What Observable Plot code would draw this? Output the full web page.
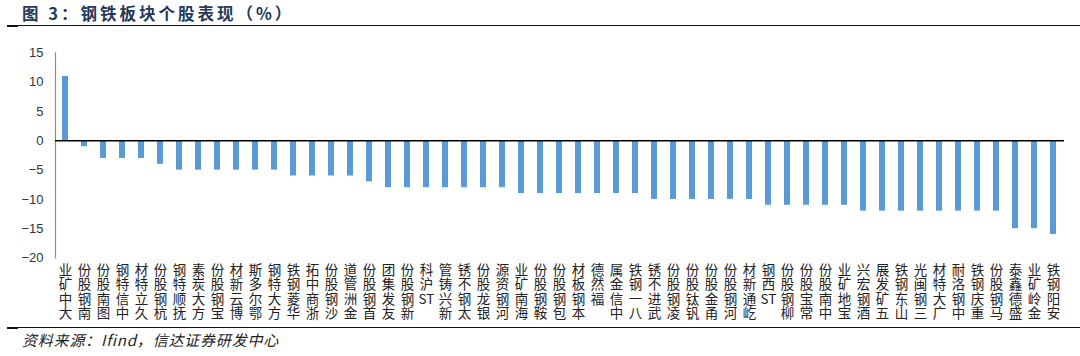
<!DOCTYPE html>
<html>
<head>
<meta charset="utf-8">
<script src="https://cdn.jsdelivr.net/npm/d3@7"></script>
<script src="https://cdn.jsdelivr.net/npm/@observablehq/plot@0.6"></script>
<style>
  html, body { margin: 0; padding: 0; background: #fff; }
  #wrap { position: relative; width: 1080px; height: 356px; overflow: hidden; }
  #title { position: absolute; left: 22px; top: 1px; font: bold 16.5px/24px "Noto Sans CJK SC", sans-serif; letter-spacing: 3px; color: #243858; white-space: nowrap; }
  .hline { position: absolute; left: 7px; right: 0; height: 1px; background: #111; }
  .hthick { position: absolute; left: 7px; width: 11px; height: 2px; background: #111; }
  #chart { position: absolute; left: 0; top: 27px; }
  #source { position: absolute; left: 22px; top: 330px; font: italic 15px/20px "Noto Sans CJK SC", sans-serif; letter-spacing: 0.8px; color: #222; white-space: nowrap; }
</style>
</head>
<body>
<div id="wrap">
  <div id="title">图 3：钢铁板块个股表现（%）</div>
  <div class="hline" style="top:25px"></div>
  <div class="hthick" style="top:25px"></div>
  <div id="chart"></div>
  <div class="hline" style="top:327px"></div>
  <div class="hthick" style="top:327px"></div>
  <div id="source">资料来源：Ifind，信达证券研发中心</div>
</div>
<script>
const names = [
  "大中矿业","南钢股份","图南股份","中信特钢","久立特材","杭钢股份","抚顺特钢","方大炭素","宝钢股份","博云新材",
  "鄂尔多斯","方大特钢","华菱钢铁","浙商中拓","沙钢股份","金洲管道","首钢股份","友发集团","新钢股份","ST沪科",
  "新兴铸管","太钢不锈","银龙股份","河钢资源","海南矿业","鞍钢股份","包钢股份","本钢板材","福然德","中信金属",
  "八一钢铁","武进不锈","凌钢股份","钒钛股份","甬金股份","河钢股份","屹通新材","ST西钢","柳钢股份","常宝股份",
  "中南股份","宝地矿业","酒钢宏兴","五矿发展","山东钢铁","三钢闽光","广大特材","中钢洛耐","重庆钢铁","马钢股份",
  "盛德鑫泰","金岭矿业","安阳钢铁"
];
const values = [
  11, -1, -3, -3, -3, -4, -5, -5, -5, -5,
  -5, -5, -6, -6, -6, -6, -7, -8, -8, -8,
  -8, -8, -8, -8, -9, -9, -9, -9, -9, -9,
  -9, -10, -10, -10, -10, -10, -10, -11, -11, -11,
  -11, -11, -12, -12, -12, -12, -12, -12, -12, -12,
  -15, -15, -16
];
const yTicks = [-20, -15, -10, -5, 0, 5, 10, 15];

const data = names.map((name, i) => ({name, value: values[i]}));

// labels read bottom-to-top with upright glyphs: one glyph per line, reversed (Latin runs kept together)
const stackText = s => (s.match(/[A-Za-z]+|./g) || []).reverse().join("\n");

const chart = Plot.plot({
  width: 1080,
  height: 300,
  marginLeft: 55,
  marginRight: 16,
  marginTop: 25.5,
  marginBottom: 69.5,
  style: {fontFamily: "'Liberation Sans', Arial, sans-serif", fontSize: "13px", color: "#333", background: "#fff"},
  x: {domain: names, axis: null, paddingInner: 0.66, paddingOuter: 0.33},
  y: {domain: [-20, 15], label: null},
  marks: [
    Plot.barY(data, {x: "name", y: "value", fill: "#5B9BD5"}),
    Plot.frame({anchor: "left", stroke: "#8c8c8c", strokeWidth: 1.2}),
    Plot.ruleY([0], {stroke: "#000", strokeWidth: 1.5}),
    Plot.axisY({ticks: yTicks, tickSize: 0, tickPadding: 12, fontSize: 13, fill: "#333", label: null}),
    Plot.text(data, {
      x: "name",
      frameAnchor: "bottom",
      text: d => stackText(d.name),
      textAnchor: "middle",
      lineAnchor: "top",
      lineHeight: 1.06,
      dy: 7,
      fontSize: 13.5,
      fontFamily: "'Noto Sans CJK SC', sans-serif",
      fill: "#222"
    })
  ]
});

document.getElementById("chart").appendChild(chart);
</script>
</body>
</html>
